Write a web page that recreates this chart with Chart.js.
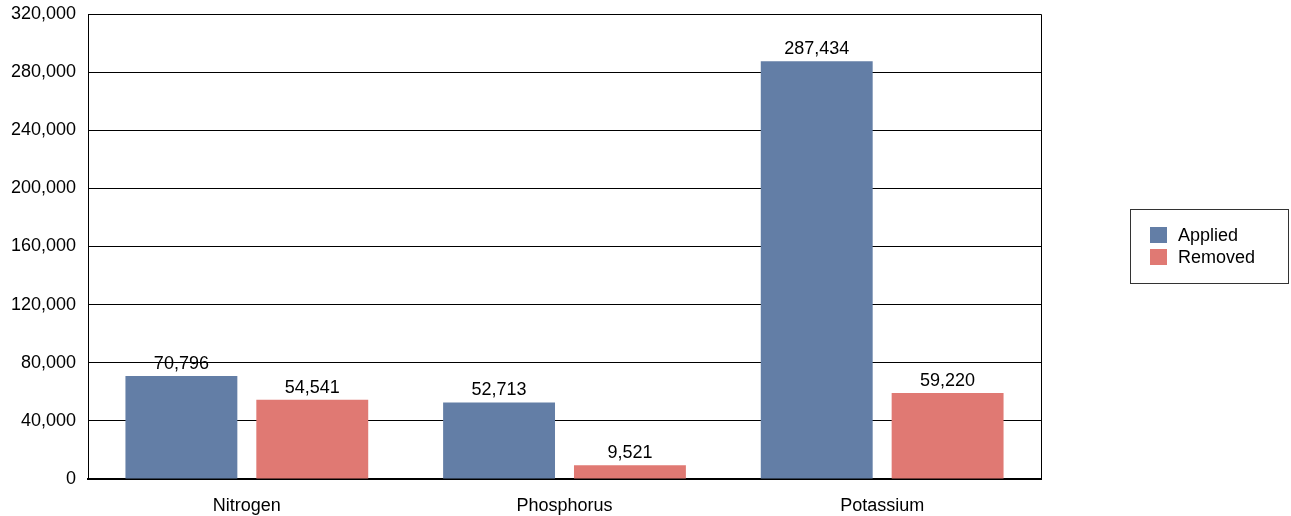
<!DOCTYPE html>
<html>
<head>
<meta charset="utf-8">
<script src="https://cdn.jsdelivr.net/npm/chart.js@4"></script>
<style>
  html, body { margin: 0; padding: 0; background: #fff; }
  #wrap { width: 1291px; height: 516px; }
</style>
</head>
<body>
<div id="wrap"><canvas id="chart" width="1291" height="516"></canvas></div>
<script>
const categories = ['Nitrogen', 'Phosphorus', 'Potassium'];
const applied = [70796, 52713, 287434];
const removed = [54541, 9521, 59220];
const seriesNames = ['Applied', 'Removed'];
const seriesColors = ['#637ea6', '#e07973'];

const FONT = '"Liberation Sans", Arial, sans-serif';
const FSIZE = 18;

// value labels above each bar
const barLabels = {
  id: 'barLabels',
  afterDatasetsDraw(chart) {
    const ctx = chart.ctx;
    ctx.save();
    ctx.font = FSIZE + 'px ' + FONT;
    ctx.fillStyle = '#000';
    ctx.textAlign = 'center';
    ctx.textBaseline = 'alphabetic';
    chart.data.datasets.forEach((ds, i) => {
      chart.getDatasetMeta(i).data.forEach((bar, j) => {
        ctx.fillText(ds.data[j].toLocaleString('en-US'), bar.x, bar.y - 7);
      });
    });
    ctx.restore();
  }
};

// frame round the plot and the boxed legend on the right
const frameAndLegend = {
  id: 'frameAndLegend',
  afterDraw(chart) {
    const ctx = chart.ctx;
    const a = chart.chartArea;
    ctx.save();
    ctx.strokeStyle = '#000';
    ctx.lineWidth = 1;
    ctx.beginPath();
    ctx.moveTo(a.left, a.top + 0.5);
    ctx.lineTo(a.right + 0.5, a.top + 0.5);
    ctx.lineTo(a.right + 0.5, a.bottom);
    ctx.stroke();

    // legend box
    const bx = 1130.5, by = 209.5, bw = 158, bh = 74;
    ctx.strokeStyle = '#333';
    ctx.strokeRect(bx, by, bw, bh);
    ctx.font = FSIZE + 'px ' + FONT;
    ctx.textBaseline = 'middle';
    ctx.textAlign = 'left';
    chart.data.datasets.forEach((ds, i) => {
      const y = 235 + i * 22;
      ctx.fillStyle = ds.backgroundColor;
      ctx.fillRect(1150, y - 8, 17, 16);
      ctx.fillStyle = '#000';
      ctx.fillText(ds.label, 1178, y + 1);
    });
    ctx.restore();
  }
};

new Chart(document.getElementById('chart'), {
  type: 'bar',
  data: {
    labels: categories,
    datasets: [
      { label: seriesNames[0], data: applied, backgroundColor: seriesColors[0] },
      { label: seriesNames[1], data: removed, backgroundColor: seriesColors[1] }
    ]
  },
  options: {
    responsive: false,
    animation: false,
    devicePixelRatio: 1,
    layout: { padding: { left: 0, top: 14, right: 250, bottom: 0 } },
    datasets: { bar: { barPercentage: 0.855, categoryPercentage: 0.824 } },
    plugins: {
      legend: { display: false },
      tooltip: { enabled: false }
    },
    scales: {
      x: {
        grid: { display: false },
        border: { color: '#000', width: 2 },
        ticks: { color: '#000', font: { family: FONT, size: FSIZE }, padding: 8 },
        afterFit: (s) => { s.height = 37; s.paddingLeft = 0; s.paddingRight = 0; }
      },
      y: {
        min: 0,
        max: 320000,
        ticks: {
          stepSize: 40000,
          color: '#000',
          font: { family: FONT, size: FSIZE },
          padding: 12,
          callback: v => v.toLocaleString('en-US')
        },
        grid: { color: '#000', lineWidth: 1, drawTicks: false },
        border: { color: '#000', width: 1 },
        afterFit: (s) => { s.width = 88; s.paddingTop = 0; s.paddingBottom = 0; }
      }
    }
  },
  plugins: [barLabels, frameAndLegend]
});
</script>
</body>
</html>
